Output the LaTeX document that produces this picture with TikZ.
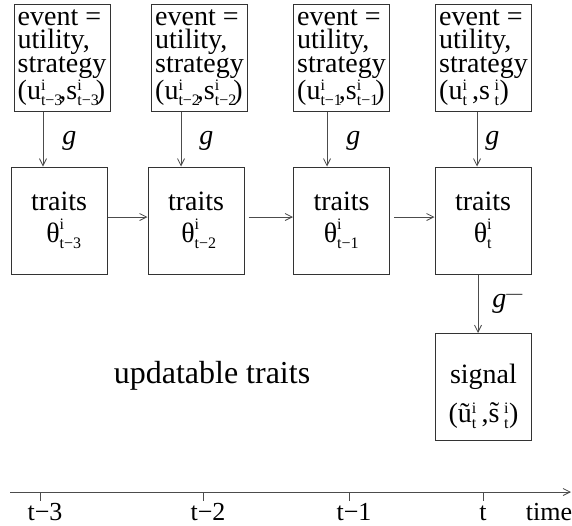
\documentclass[tikz,border=0pt]{standalone}
\usepackage{fontspec}
\usepackage{amsmath}
\setmainfont{Liberation Serif}
\usetikzlibrary{arrows.meta}
\DeclareMathSizes{28}{28}{16}{12}
\DeclareMathSizes{26}{26}{15}{11}

\newcommand{\pairof}[1]{($\text{u}^{\text{i}}_{\text{#1}}$\hspace{-3.5pt},$\text{s}^{\text{i}}_{\text{#1}}$\hspace{-3.5pt})}
\newcommand{\traitof}[1]{$\text{θ}^{\text{i}}_{\text{#1}}$}

\begin{document}
\begin{tikzpicture}[x=1pt,y=-1pt,
    box/.style={rectangle,draw=black!80,line width=1pt,
      minimum width=96pt,minimum height=107pt,inner sep=0pt},
    eventbox/.style={box,align=left,font=\fontsize{28}{23.5}\selectfont},
    traitbox/.style={box,align=center,font=\fontsize{28}{24}\selectfont},
    flow/.style={-{Straight Barb[length=7pt,width=7pt]},draw=black!70,line width=0.8pt},
    glabel/.style={font=\fontsize{28}{28}\selectfont,inner sep=0pt,anchor=west},
    ticklabel/.style={font=\fontsize{26}{26}\selectfont,anchor=base,inner sep=0pt}]
\useasboundingbox (0,0) rectangle (572,525);

% events
\node[eventbox] (event3) at (62,57.5) {event =\\utility,\\strategy\\\pairof{t−3}};
\node[eventbox] (event2) at (199.5,57.5) {event =\\utility,\\strategy\\\pairof{t−2}};
\node[eventbox] (event1) at (341.5,57.5) {event =\\utility,\\strategy\\\pairof{t−1}};
\node[eventbox] (event0) at (483.5,57.5) {event =\\utility,\\strategy\\
  ($\text{u}^{\text{i}}_{\text{t}}$\,,s\,$^{\text{i}}_{\text{t}}$)};

% traits
\node[traitbox] (traits3) at (59,220.5) {traits\\[8pt]\hspace*{10pt}\traitof{t−3}};
\node[traitbox] (traits2) at (196,220.5) {traits\\[8pt]\hspace*{6pt}\traitof{t−2}};
\node[traitbox] (traits1) at (341.5,220.5) {traits\\[8pt]\traitof{t−1}};
\node[traitbox] (traits0) at (483,220.5) {traits\\[8pt]\traitof{t}};

% signal
\node[traitbox] (signal) at (483.5,387) {\rule{0pt}{38pt}signal\\[12pt]
  (ũ$^{\text{i}}_{\text{t}}$\,,\~s\,$^{\text{i}}_{\text{t}}$)};

% g arrows
\draw[flow] ([xshift=-19pt]event3.south) -- ([xshift=-16pt]traits3.north)
  node[midway,glabel,xshift=19pt,yshift=-2pt] {\textit{g}};
\draw[flow] ([xshift=-18.5pt]event2.south) -- ([xshift=-15pt]traits2.north)
  node[midway,glabel,xshift=18pt,yshift=-2pt] {\textit{g}};
\draw[flow] ([xshift=-14.5pt]event1.south) -- ([xshift=-14.5pt]traits1.north)
  node[midway,glabel,xshift=19pt,yshift=-2pt] {\textit{g}};
\draw[flow] ([xshift=-6.5pt]event0.south) -- ([xshift=-6pt]traits0.north)
  node[midway,glabel,xshift=8pt,yshift=-2pt] {\textit{g}};

% trait updates
\draw[flow] ([yshift=3.5pt]traits3.east) -- ([yshift=3.5pt]traits2.west);
\draw[flow] ([xshift=4pt,yshift=3.5pt]traits2.east) -- ([yshift=3.5pt]traits1.west);
\draw[flow] ([xshift=4pt,yshift=3.5pt]traits1.east) -- ([yshift=3.5pt]traits0.west);

% inverse to signal
\draw[flow] ([xshift=-5pt]traits0.south) -- ([xshift=-5.5pt]signal.north)
  node[midway,glabel,xshift=14pt] {\textit{g}$^{\text{—}}$};

\node[font=\fontsize{32}{32}\selectfont,anchor=base] (title) at (212,383) {updatable traits};

% time axis
\coordinate (tstart) at (10,492);
\coordinate (tend) at (571,492);
\draw[flow] (tstart) -- (tend);
\foreach \x/\lab/\lx in {40/t−3/45,203/t−2/208,349/t−1/354,483/t/483}{
  \draw[black!70,line width=0.8pt] (\x,492) -- (\x,500.5);
  \node[ticklabel] at (\lx,520.5) {\lab};
}
\node[ticklabel] (timelabel) at (549,520.5) {time};
\end{tikzpicture}
\end{document}
